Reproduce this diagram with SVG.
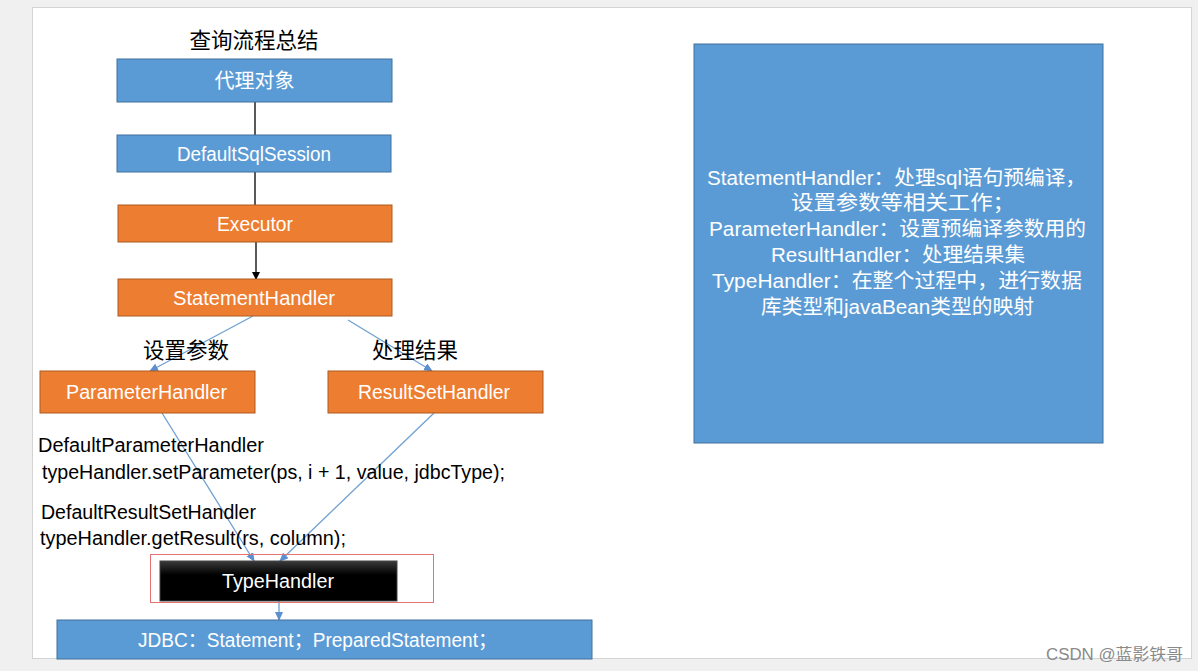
<svg xmlns="http://www.w3.org/2000/svg" width="1198" height="671" viewBox="0 0 1198 671">
<defs>
<style>
.t{font-family:"Liberation Sans","Noto Sans CJK SC",sans-serif;}
.lbl{font-size:20px;fill:#fff;text-anchor:middle;}
.code{font-size:19.5px;fill:#000;}
.blue{fill:#5b9bd5;stroke:#41719c;stroke-width:1;}
.orange{fill:#ed7d31;stroke:#ae5a21;stroke-width:1;}
.bl{stroke:#000;stroke-width:1.3;fill:none;}
.bu{stroke:#6fa0d2;stroke-width:1.3;fill:none;}
.side{font-size:20.5px;fill:#fff;text-anchor:middle;}
</style>
<marker id="ak" markerWidth="8" markerHeight="8" refX="7" refY="4" orient="auto" markerUnits="userSpaceOnUse"><path d="M0,0 L8,4 L0,8 z" fill="#000"/></marker>
<marker id="ab" markerWidth="9" markerHeight="8" refX="8" refY="4" orient="auto" markerUnits="userSpaceOnUse"><path d="M0,0 L9,4 L0,8 z" fill="#5b8fcf"/></marker>
<linearGradient id="gk" x1="0" y1="0" x2="0" y2="1"><stop offset="0" stop-color="#3a3a3a"/><stop offset="0.35" stop-color="#000"/><stop offset="1" stop-color="#000"/></linearGradient>
</defs>
<rect x="0" y="0" width="1198" height="671" fill="#f0f0f0"/>
<rect x="32.5" y="7.5" width="1159" height="651" fill="#fff" stroke="#d4d4d4"/>

<text class="t" x="254" y="48" font-size="21.5" text-anchor="middle" fill="#000">查询流程总结</text>

<g id="connectors">
<line class="bl" x1="255" y1="102" x2="255" y2="135"/>
<line class="bl" x1="255" y1="172" x2="255" y2="205"/>
<line class="bl" x1="256" y1="242" x2="256" y2="279" marker-end="url(#ak)"/>
<line class="bu" x1="253" y1="316" x2="150" y2="371" marker-end="url(#ab)"/>
<line class="bu" x1="348" y1="320" x2="432" y2="371" marker-end="url(#ab)"/>
<line class="bu" x1="162" y1="413" x2="254" y2="561" marker-end="url(#ab)"/>
<line class="bu" x1="434" y1="413" x2="280" y2="561" marker-end="url(#ab)"/>
<line class="bu" x1="279" y1="601" x2="279" y2="620" marker-end="url(#ab)"/>
</g>

<g id="proxy"><rect class="blue" x="117" y="59" width="275" height="43"/><text class="t lbl" x="254.5" y="88" font-size="21">代理对象</text></g>
<g id="sqlsession"><rect class="blue" x="117" y="135" width="274" height="37"/><text class="t lbl" x="254" y="161" textLength="154" lengthAdjust="spacingAndGlyphs">DefaultSqlSession</text></g>
<g id="executor"><rect class="orange" x="118" y="205" width="274" height="37"/><text class="t lbl" x="255" y="231" textLength="76" lengthAdjust="spacingAndGlyphs">Executor</text></g>
<g id="statementhandler"><rect class="orange" x="118" y="279" width="274" height="37"/><text class="t lbl" x="254" y="305" textLength="162" lengthAdjust="spacingAndGlyphs">StatementHandler</text></g>

<text class="t" x="186" y="358" font-size="21.5" text-anchor="middle" fill="#000">设置参数</text>
<text class="t" x="415" y="358" font-size="21.5" text-anchor="middle" fill="#000">处理结果</text>

<g id="parameterhandler"><rect class="orange" x="40" y="371" width="215" height="42"/><text class="t lbl" x="146.5" y="399" textLength="161" lengthAdjust="spacingAndGlyphs">ParameterHandler</text></g>
<g id="resultsethandler"><rect class="orange" x="328" y="371" width="215" height="42"/><text class="t lbl" x="434" y="399" textLength="152" lengthAdjust="spacingAndGlyphs">ResultSetHandler</text></g>

<text class="t code" x="38" y="452" textLength="226" lengthAdjust="spacingAndGlyphs">DefaultParameterHandler</text>
<text class="t code" x="42" y="479" textLength="463" lengthAdjust="spacingAndGlyphs">typeHandler.setParameter(ps, i + 1, value, jdbcType);</text>
<text class="t code" x="41" y="519" textLength="215" lengthAdjust="spacingAndGlyphs">DefaultResultSetHandler</text>
<text class="t code" x="40" y="545" textLength="306" lengthAdjust="spacingAndGlyphs">typeHandler.getResult(rs, column);</text>

<g id="typehandler">
<rect x="150.5" y="554.5" width="283" height="48" fill="none" stroke="#e57373" stroke-width="1"/>
<rect x="160" y="561" width="237" height="40" fill="url(#gk)" stroke="#444" stroke-width="1"/>
<text class="t lbl" x="278" y="588" textLength="112" lengthAdjust="spacingAndGlyphs">TypeHandler</text>
</g>

<g id="jdbc"><rect class="blue" x="57" y="620" width="535" height="39"/><text class="t lbl" x="317.5" y="647" textLength="359" lengthAdjust="spacingAndGlyphs">JDBC：Statement；PreparedStatement；</text></g>

<g id="notes">
<rect class="blue" x="694" y="44" width="409" height="399"/>
<text class="t side" x="896.5" y="185" textLength="379" lengthAdjust="spacingAndGlyphs">StatementHandler：处理sql语句预编译，</text>
<text class="t side" x="903" y="210" textLength="224" lengthAdjust="spacingAndGlyphs">设置参数等相关工作；</text>
<text class="t side" x="897.5" y="236" textLength="377" lengthAdjust="spacingAndGlyphs">ParameterHandler：设置预编译参数用的</text>
<text class="t side" x="898" y="262" textLength="254" lengthAdjust="spacingAndGlyphs">ResultHandler：处理结果集</text>
<text class="t side" x="897" y="288" textLength="370" lengthAdjust="spacingAndGlyphs">TypeHandler：在整个过程中，进行数据</text>
<text class="t side" x="897.5" y="314" textLength="273" lengthAdjust="spacingAndGlyphs">库类型和javaBean类型的映射</text>
</g>

<text class="t" x="1046" y="660" font-size="16" fill="#8a8a8a" textLength="137" lengthAdjust="spacingAndGlyphs">CSDN @蓝影铁哥</text>
</svg>
